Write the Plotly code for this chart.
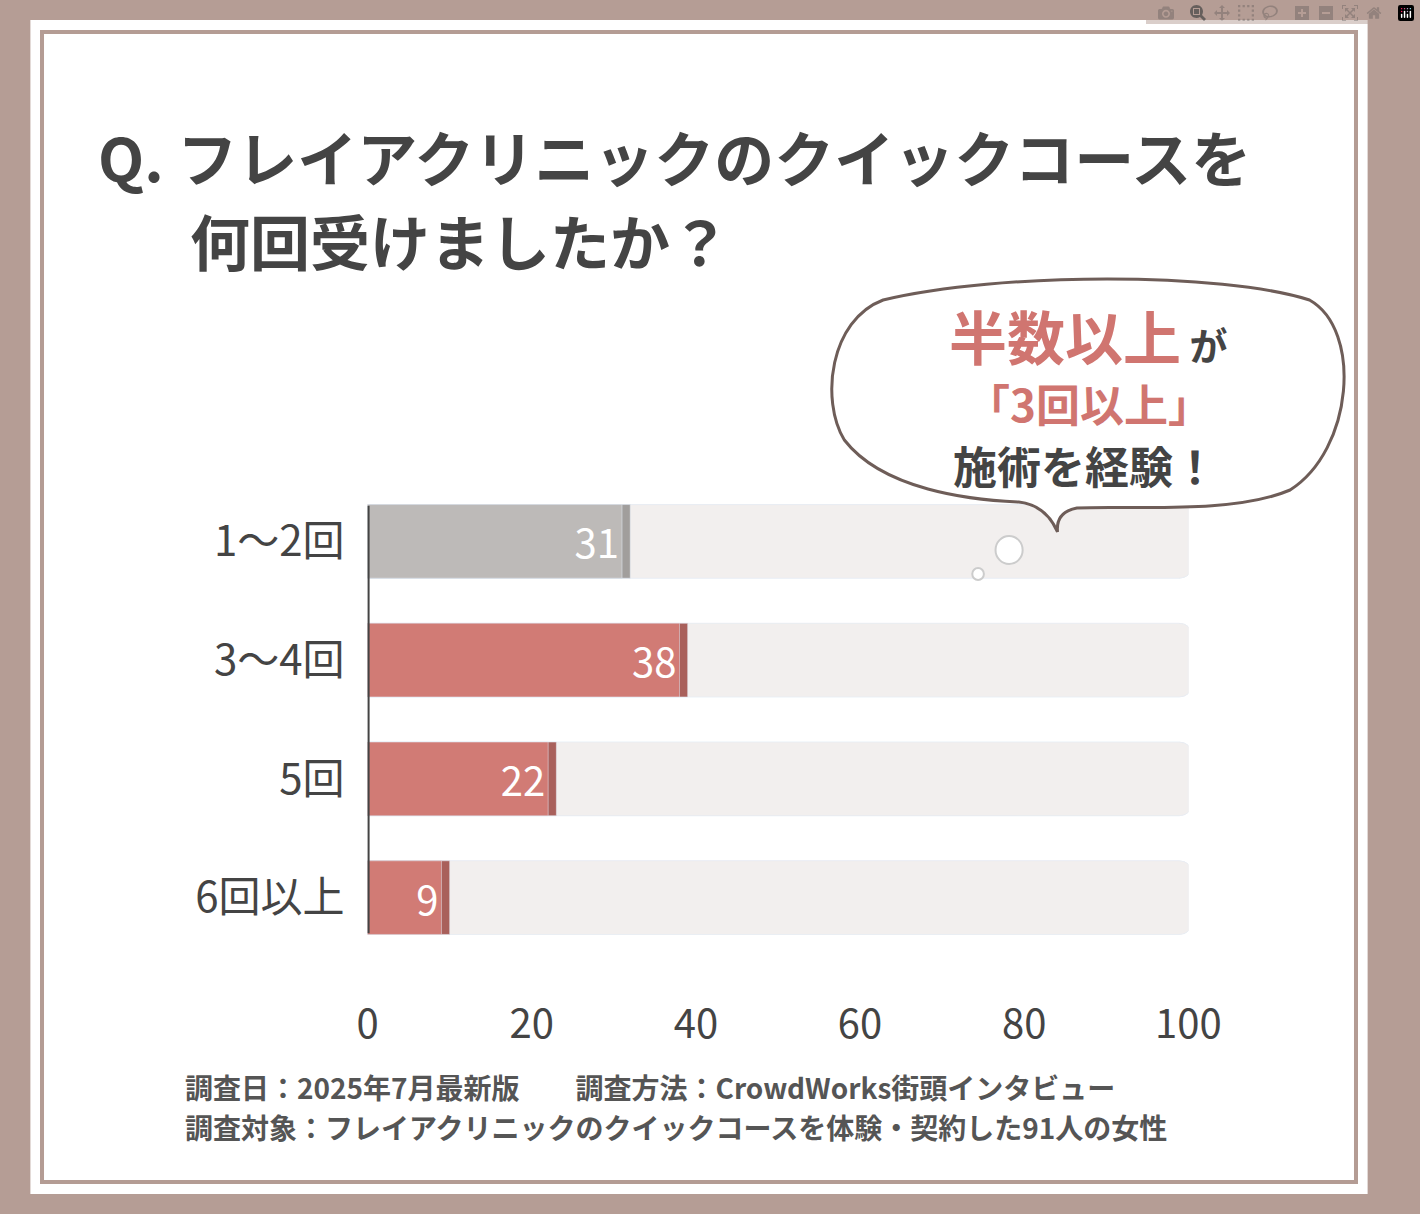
import plotly.graph_objects as go

categories = ["1～2回", "3～4回", "5回", "6回以上"]
values = [31, 38, 22, 9]
colors = ["#bdbab8", "#d17b75", "#d17b75", "#d17b75"]
shadow_colors = ["#a19e9c", "#a9605b", "#a9605b", "#a9605b"]
tick_vals = [0, 20, 40, 60, 80, 100]
full = 100

W, H = 1420, 1214
def px(x): return x / W
def py(y): return 1 - y / H

FONT = "Noto Sans CJK JP"
fig = go.Figure()
fig.add_bar(y=categories, x=[full + 0.6] * 4, orientation="h", marker=dict(color="#e2dedd", cornerradius=14),
            width=0.62, hoverinfo="skip")
fig.add_bar(y=categories, x=[full] * 4, orientation="h", marker=dict(color="#f2efee", cornerradius=14),
            width=0.62, hoverinfo="skip")
fig.add_bar(y=categories, x=[v + 1.0 for v in values], orientation="h",
            marker=dict(color=shadow_colors, cornerradius=14), width=0.62, hoverinfo="skip")
fig.add_bar(y=categories, x=values, orientation="h", marker=dict(color=colors, cornerradius=14), width=0.62,
            text=[str(v) for v in values], textposition="inside", insidetextanchor="end",
            textfont=dict(color="white", size=40, family=FONT), hoverinfo="skip")

shapes = [
    dict(type="rect", xref="paper", yref="paper", x0=px(20), x1=px(1400), y0=py(1194), y1=py(20),
         fillcolor="white", line=dict(width=0), layer="below"),
    dict(type="rect", xref="paper", yref="paper", x0=px(32), x1=px(1388), y0=py(1182), y1=py(32),
         fillcolor="rgba(0,0,0,0)", line=dict(color="#b49c94", width=4), layer="below"),
    dict(type="line", xref="x", yref="y", x0=0, x1=0, y0=-0.3, y1=3.3, line=dict(color="#444", width=4)),
]
def P(x, y): return f"{px(x)},{py(y)}"
path = ("M " + P(900, 300) + " C " + P(1020, 272) + " " + P(1250, 272) + " " + P(1340, 300) +
        " C " + P(1395, 330) + " " + P(1385, 450) + " " + P(1320, 490) +
        " C " + P(1260, 515) + " " + P(1150, 505) + " " + P(1100, 508) +
        " Q " + P(1078, 512) + " " + P(1080, 532) +
        " Q " + P(1068, 505) + " " + P(1040, 502) +
        " C " + P(990, 500) + " " + P(900, 490) + " " + P(860, 440) +
        " C " + P(835, 400) + " " + P(845, 320) + " " + P(900, 300) + " Z")
shapes.append(dict(type="path", xref="paper", yref="paper", path=path, fillcolor="white",
                   line=dict(color="#6e5d58", width=3)))
for cx, cy, r in [(1030, 550, 14), (998, 574, 6)]:
    shapes.append(dict(type="circle", xref="paper", yref="paper", x0=px(cx - r), x1=px(cx + r),
                       y0=py(cy + r), y1=py(cy - r), fillcolor="white", line=dict(color="#ccc", width=2)))

anns = [
    dict(x=px(88), y=py(155), text="<b>Q. フレイアクリニックのクイックコースを</b>", font=dict(size=60, color="#444", family=FONT)),
    dict(x=px(183), y=py(240), text="<b>何回受けましたか？</b>", font=dict(size=60, color="#444", family=FONT)),
    dict(x=px(1112), y=py(335), text="<span style='font-size:58px;color:#d07570'><b>半数以上</b></span> <b>が</b>",
         font=dict(size=38, color="#444", family=FONT), xanchor="center"),
    dict(x=px(1112), y=py(403), text="<b>「3回以上」</b>", font=dict(size=44, color="#d07570", family=FONT), xanchor="center"),
    dict(x=px(1108), y=py(465), text="<b>施術を経験！</b>", font=dict(size=44, color="#444", family=FONT), xanchor="center"),
    dict(x=px(178), y=py(1087), text="<b>調査日：2025年7月最新版　　調査方法：CrowdWorks街頭インタビュー</b>",
         font=dict(size=28, color="#555", family=FONT)),
    dict(x=px(178), y=py(1127), text="<b>調査対象：フレイアクリニックのクイックコースを体験・契約した91人の女性</b>",
         font=dict(size=28, color="#555", family=FONT)),
]
for a in anns:
    a.setdefault("xanchor", "left")
    a.update(xref="paper", yref="paper", yanchor="middle", showarrow=False)

fig.update_layout(
    width=W, height=H, margin=dict(l=0, r=0, t=0, b=0), paper_bgcolor="#b59d95", plot_bgcolor="rgba(0,0,0,0)",
    barmode="overlay", showlegend=False, shapes=shapes, annotations=anns,
    xaxis=dict(domain=[px(368), px(1215)], range=[0, 100], tickvals=tick_vals, showgrid=False, zeroline=False,
               tickfont=dict(size=40, color="#444", family=FONT), ticks="", ticklabelstandoff=40),
    yaxis=dict(domain=[py(957), py(482)], categoryorder="array", categoryarray=categories[::-1],
               range=[-0.5, 3.5], showgrid=False, zeroline=False, ticks="", ticklabelstandoff=22,
               tickfont=dict(size=42, color="#444", family=FONT)),
)
fig.write_html("out.html", post_script="document.body.style.margin='0';document.body.style.overflow='hidden';")
